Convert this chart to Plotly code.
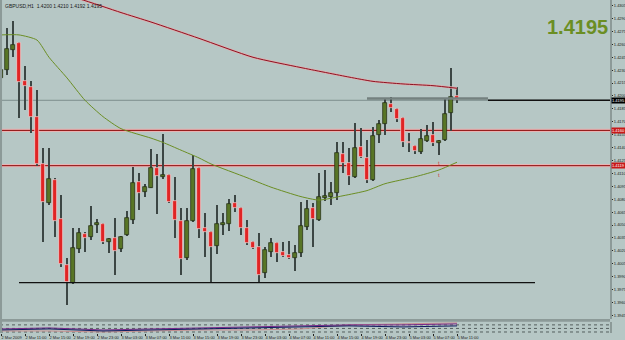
import plotly.graph_objects as go
import pandas as pd

# ---------------- data (GBPUSD, H1) ----------------
times = pd.date_range("2009-03-02 07:00", periods=77, freq="h")

opens = [1.4221, 1.4230, 1.4253, 1.4262, 1.4217, 1.4210, 1.4176, 1.4121, 1.4076, 1.4102,
         1.4057, 1.4003, 1.3983, 1.4022, 1.4040, 1.4036, 1.4050, 1.4051, 1.4030, 1.4035,
         1.4022, 1.4038, 1.4056, 1.4100, 1.4088, 1.4093, 1.4116, 1.4106, 1.4108, 1.4078,
         1.4055, 1.4012, 1.4055, 1.4116, 1.4046, 1.4042, 1.4026, 1.4050, 1.4051, 1.4076,
         1.4070, 1.4046, 1.4030, 1.4024, 1.3994, 1.4019, 1.4029, 1.4019, 1.4015, 1.4012,
         1.4017, 1.4048, 1.4070, 1.4056, 1.4081, 1.4083, 1.4087, 1.4133, 1.4122, 1.4106,
         1.4141, 1.4128, 1.4102, 1.4155, 1.4167, 1.4191, 1.4185, 1.4174, 1.4146, 1.4142,
         1.4135, 1.4148, 1.4155, 1.4145, 1.4149, 1.4180, 1.4200]
highs = [1.4242, 1.4279, 1.4287, 1.4263, 1.4235, 1.4217, 1.4207, 1.4140, 1.4140, 1.4105,
         1.4085, 1.4012, 1.4046, 1.4046, 1.4042, 1.4072, 1.4057, 1.4052, 1.4035, 1.4058,
         1.4037, 1.4066, 1.4117, 1.4110, 1.4098, 1.4138, 1.4133, 1.4156, 1.4109, 1.4106,
         1.4070, 1.4070, 1.4131, 1.4117, 1.4064, 1.4043, 1.4073, 1.4064, 1.4080, 1.4085,
         1.4071, 1.4056, 1.4031, 1.4041, 1.4024, 1.4035, 1.4030, 1.4030, 1.4031, 1.4027,
         1.4077, 1.4079, 1.4076, 1.4110, 1.4114, 1.4100, 1.4146, 1.4146, 1.4140, 1.4169,
         1.4163, 1.4149, 1.4164, 1.4172, 1.4198, 1.4199, 1.4186, 1.4175, 1.4157, 1.4143,
         1.4162, 1.4166, 1.4170, 1.4149, 1.4198, 1.4233, 1.4210]
lows = [1.4215, 1.4224, 1.4245, 1.4174, 1.4184, 1.4157, 1.4119, 1.4030, 1.4073, 1.4036,
        1.4001, 1.3957, 1.3981, 1.4017, 1.4019, 1.4033, 1.4041, 1.4028, 1.4017, 1.3992,
        1.4019, 1.4037, 1.4051, 1.4067, 1.4083, 1.4093, 1.4063, 1.4103, 1.4076, 1.4035,
        1.3992, 1.4009, 1.4054, 1.4035, 1.4013, 1.3983, 1.4016, 1.4038, 1.4043, 1.4065,
        1.4038, 1.4027, 1.4022, 1.3983, 1.3988, 1.4013, 1.4007, 1.4013, 1.4010, 1.3996,
        1.4013, 1.4044, 1.4024, 1.4055, 1.4078, 1.4073, 1.4079, 1.4110, 1.4096, 1.4105,
        1.4128, 1.4099, 1.4101, 1.4145, 1.4155, 1.4181, 1.4170, 1.4141, 1.4135, 1.4133,
        1.4133, 1.4147, 1.4142, 1.4131, 1.4148, 1.4159, 1.4192]
closes = [1.4230, 1.4255, 1.4259, 1.4216, 1.4212, 1.4176, 1.4121, 1.4077, 1.4103, 1.4055,
          1.4005, 1.3984, 1.4023, 1.4041, 1.4035, 1.4049, 1.4052, 1.4030, 1.4034, 1.4020,
          1.4036, 1.4058, 1.4099, 1.4087, 1.4094, 1.4116, 1.4107, 1.4108, 1.4077, 1.4056,
          1.4010, 1.4055, 1.4115, 1.4045, 1.4042, 1.4024, 1.4051, 1.4052, 1.4074, 1.4070,
          1.4046, 1.4029, 1.4023, 1.3992, 1.4021, 1.4029, 1.4017, 1.4014, 1.4012, 1.4017,
          1.4049, 1.4069, 1.4057, 1.4083, 1.4084, 1.4087, 1.4134, 1.4122, 1.4107, 1.4140,
          1.4129, 1.4102, 1.4153, 1.4167, 1.4192, 1.4186, 1.4173, 1.4146, 1.4145, 1.4136,
          1.4150, 1.4153, 1.4145, 1.4148, 1.4179, 1.4199, 1.4195]

# moving averages (read at selected bars)
red_ma_idx = [0, 13, 20, 25, 33, 42, 50, 58, 62, 67, 72, 76]
red_ma = [1.4335, 1.4313, 1.4297, 1.4286, 1.4267, 1.4245, 1.4233, 1.4222, 1.4217, 1.4214, 1.4212, 1.4209]
green_ma_idx = [0, 3, 6, 8, 11, 14, 17, 20, 25, 27, 30, 33, 35, 41, 45, 50, 53, 57, 61, 64, 69, 73, 76]
green_ma = [1.4271, 1.4271, 1.4265, 1.4245, 1.4221, 1.4195, 1.4176, 1.4162, 1.4151, 1.4146, 1.4137,
            1.4128, 1.4121, 1.4105, 1.4094, 1.4083, 1.4079, 1.4084, 1.4090, 1.4098, 1.4106, 1.4114, 1.4123]

# horizontal levels
red_levels = [1.4160, 1.4119]
bid_price = 1.4195
grey_seg_price = 1.4197
grey_seg_span = ["2009-03-04 20:00", "2009-03-05 16:10"]
black_seg_span = ["2009-03-05 16:10", "2009-03-06 12:30"]
support_price = 1.3983
support_span = ["2009-03-02 10:00", "2009-03-06 00:00"]

# indicator sub-window (read at selected bars)
ind_idx = [0, 8, 17, 25, 33, 42, 50, 58, 67, 76]
ind_navy = [3, 4, 2, 3, 4, 5, 6, 7, 6, 7]
ind_purple = [4, 5, 3, 4, 5, 6, 7, 8, 8, 9]
ind_pink = [2, 2, 1, 2, 3, 3, 4, 8, 9, 10]
ind_levels = [8, 4.5, 1]

price_ticks = [1.4305, 1.4290, 1.4275, 1.4260, 1.4245, 1.4230, 1.4215, 1.4200, 1.4185, 1.4170,
               1.4155, 1.4140, 1.4125, 1.4110, 1.4095, 1.4080, 1.4065, 1.4050, 1.4035, 1.4020,
               1.4005, 1.3990, 1.3975, 1.3960, 1.3945]
time_ticks = ["2009-03-02 07:00", "2009-03-02 11:00", "2009-03-02 15:00", "2009-03-02 19:00",
              "2009-03-02 23:00", "2009-03-03 03:00", "2009-03-03 07:00", "2009-03-03 11:00",
              "2009-03-03 15:00", "2009-03-03 19:00", "2009-03-03 23:00", "2009-03-04 03:00",
              "2009-03-04 07:00", "2009-03-04 11:00", "2009-03-04 15:00", "2009-03-04 19:00",
              "2009-03-04 23:00", "2009-03-05 03:00", "2009-03-05 07:00", "2009-03-05 11:00"]
time_labels = ["2 Mar 2009", "2 Mar 11:00", "2 Mar 15:00", "2 Mar 19:00", "2 Mar 23:00",
               "3 Mar 03:00", "3 Mar 07:00", "3 Mar 11:00", "3 Mar 15:00", "3 Mar 19:00",
               "3 Mar 23:00", "4 Mar 03:00", "4 Mar 07:00", "4 Mar 11:00", "4 Mar 15:00",
               "4 Mar 19:00", "4 Mar 23:00", "5 Mar 03:00", "5 Mar 07:00", "5 Mar 11:00"]

header = "GBPUSD,H1  1.4200 1.4210 1.4192 1.4195"
big_price = "1.4195"

# ---------------- styling ----------------
BG = "rgb(182,199,197)"
GREEN = "#587526"
RED = "#e02424"
WICK = "#3c4644"
AXIS_GREY = "#8c9a98"
HOUR = 3600e3
X_RANGE = ["2009-03-02 06:50", "2009-03-06 12:30"]
Y_RANGE = [1.39407, 1.43116]
SMALL = dict(size=4, color="#1a1a1a", family="Liberation Sans")

up = [c >= o for o, c in zip(opens, closes)]

fig = go.Figure()

# wicks
fig.add_trace(go.Bar(
    x=times, base=lows, y=[h - l for h, l in zip(highs, lows)],
    width=0.2 * HOUR, marker=dict(color=WICK, line=dict(width=0)),
    xaxis="x", yaxis="y", hoverinfo="skip"))
# bodies
fig.add_trace(go.Bar(
    x=times, base=[min(o, c) for o, c in zip(opens, closes)],
    y=[abs(c - o) for o, c in zip(opens, closes)],
    width=0.7 * HOUR,
    marker=dict(color=[GREEN if u else RED for u in up],
                line=dict(color=["#1e2a10" if u else "#f2d6d6" for u in up], width=0.7)),
    xaxis="x", yaxis="y"))

# moving averages
fig.add_trace(go.Scatter(x=[times[i] for i in red_ma_idx], y=red_ma, mode="lines",
                         line=dict(color="#dcb0b0", width=2.4, shape="spline", smoothing=0.6),
                         xaxis="x", yaxis="y", hoverinfo="skip"))
fig.add_trace(go.Scatter(x=[times[i] for i in red_ma_idx], y=red_ma, mode="lines",
                         line=dict(color="#8e1020", width=1, shape="spline", smoothing=0.6),
                         xaxis="x", yaxis="y"))
fig.add_trace(go.Scatter(x=[times[i] for i in green_ma_idx], y=green_ma, mode="lines",
                         line=dict(color="#6b8e23", width=1, shape="spline", smoothing=0.6),
                         xaxis="x", yaxis="y"))

# indicator sub-window lines
for vals, col in [(ind_pink, "#c89090"), (ind_purple, "#7a2a8a"), (ind_navy, "#101a60")]:
    fig.add_trace(go.Scatter(x=[times[i] for i in ind_idx], y=vals, mode="lines",
                             line=dict(color=col, width=1), xaxis="x2", yaxis="y2"))

shapes = []
# bid line (thin grey, full width)
shapes.append(dict(type="line", xref="paper", x0=0, x1=1, yref="y", y0=bid_price, y1=bid_price,
                   line=dict(color="#7e8e8d", width=1), layer="below"))
# red levels
for lv in red_levels:
    shapes.append(dict(type="line", xref="paper", x0=0, x1=1, yref="y", y0=lv, y1=lv,
                       line=dict(color="#e8b4b4", width=3.2), layer="below"))
    shapes.append(dict(type="line", xref="paper", x0=0, x1=1, yref="y", y0=lv, y1=lv,
                       line=dict(color="#8c0a0a", width=1), layer="below"))
# grey thick segment
shapes.append(dict(type="line", xref="x", x0=grey_seg_span[0], x1=grey_seg_span[1], yref="y",
                   y0=grey_seg_price, y1=grey_seg_price, line=dict(color="#74817f", width=2.5)))
# black segment
shapes.append(dict(type="line", xref="x", x0=black_seg_span[0], x1=black_seg_span[1], yref="y",
                   y0=bid_price, y1=bid_price, line=dict(color="#111111", width=1.5)))
# support line
shapes.append(dict(type="line", xref="x", x0=support_span[0], x1=support_span[1], yref="y",
                   y0=support_price, y1=support_price, line=dict(color="#111111", width=1.3)))
# indicator dotted levels
for lv in ind_levels:
    shapes.append(dict(type="line", xref="paper", x0=0, x1=1, yref="y2", y0=lv, y1=lv,
                       line=dict(color="#555f5e", width=1, dash="dot"), layer="below"))
# frame pieces: left border and separator between windows
shapes.append(dict(type="rect", xref="paper", x0=0, x1=0.0033, yref="paper", y0=0, y1=1,
                   fillcolor=AXIS_GREY, line=dict(width=0)))
shapes.append(dict(type="rect", xref="paper", x0=0, x1=1, yref="paper", y0=0.0335, y1=0.042,
                   fillcolor=AXIS_GREY, line=dict(width=0)))

annotations = [
    dict(text=header, xref="paper", yref="paper", x=0.005, y=0.998, xanchor="left", yanchor="top",
         showarrow=False, font=dict(size=5, color="#1a1a1a", family="Liberation Sans")),
    dict(text="<b>" + big_price + "</b>", xref="paper", yref="paper", x=1.0, y=0.918,
         xanchor="right", yanchor="middle", showarrow=False,
         font=dict(size=20, color="#6b8e23", family="Liberation Sans")),
    dict(text=f"{bid_price:.4f}", xref="paper", yref="y", x=1, y=bid_price, xanchor="left",
         xshift=1, showarrow=False, bgcolor="#000000", borderpad=0,
         font=dict(size=4, color="white", family="Liberation Sans")),
]
for lv in red_levels:
    annotations.append(dict(text=f"{lv:.4f}", xref="paper", yref="y", x=1, y=lv, xanchor="left",
                            xshift=1, showarrow=False, bgcolor="#c81818", borderpad=0,
                            font=dict(size=4, color="white", family="Liberation Sans")))
for yv in [1.4122, 1.4108]:
    annotations.append(dict(text="t", xref="x", yref="y", x=times[73], y=yv, showarrow=False,
                            font=dict(size=6, color="#d04040", family="Liberation Sans")))

fig.update_layout(
    width=625, height=340,
    margin=dict(l=0, r=15, t=0, b=7, autoexpand=False),
    paper_bgcolor=BG, plot_bgcolor=BG,
    barmode="overlay", bargap=0, showlegend=False,
    xaxis=dict(domain=[0, 1], anchor="y", type="date", range=X_RANGE, showticklabels=False,
               showgrid=False, zeroline=False, ticks="", automargin=False),
    yaxis=dict(domain=[0.042, 1], anchor="x", side="right", range=Y_RANGE, automargin=False,
               tickvals=price_ticks, tickformat=".4f", ticks="outside", ticklen=1,
               tickcolor="#222222", tickfont=SMALL,
               showline=True, linecolor=AXIS_GREY, linewidth=2, showgrid=False, zeroline=False),
    xaxis2=dict(domain=[0, 1], anchor="y2", type="date", range=X_RANGE, matches="x",
                tickvals=time_ticks, ticktext=time_labels, ticks="outside", ticklen=1.5,
                tickangle=0, automargin=False,
                tickcolor="#222222", ticklabelposition="outside right",
                tickfont=SMALL, showgrid=False, zeroline=False, showline=False),
    yaxis2=dict(domain=[0, 0.0335], anchor="x2", side="right", range=[0, 11], automargin=False,
                showticklabels=False, ticks="", showgrid=False, zeroline=False,
                showline=True, linecolor=AXIS_GREY, linewidth=2),
    shapes=shapes, annotations=annotations,
)

fig.write_html("out.html")
